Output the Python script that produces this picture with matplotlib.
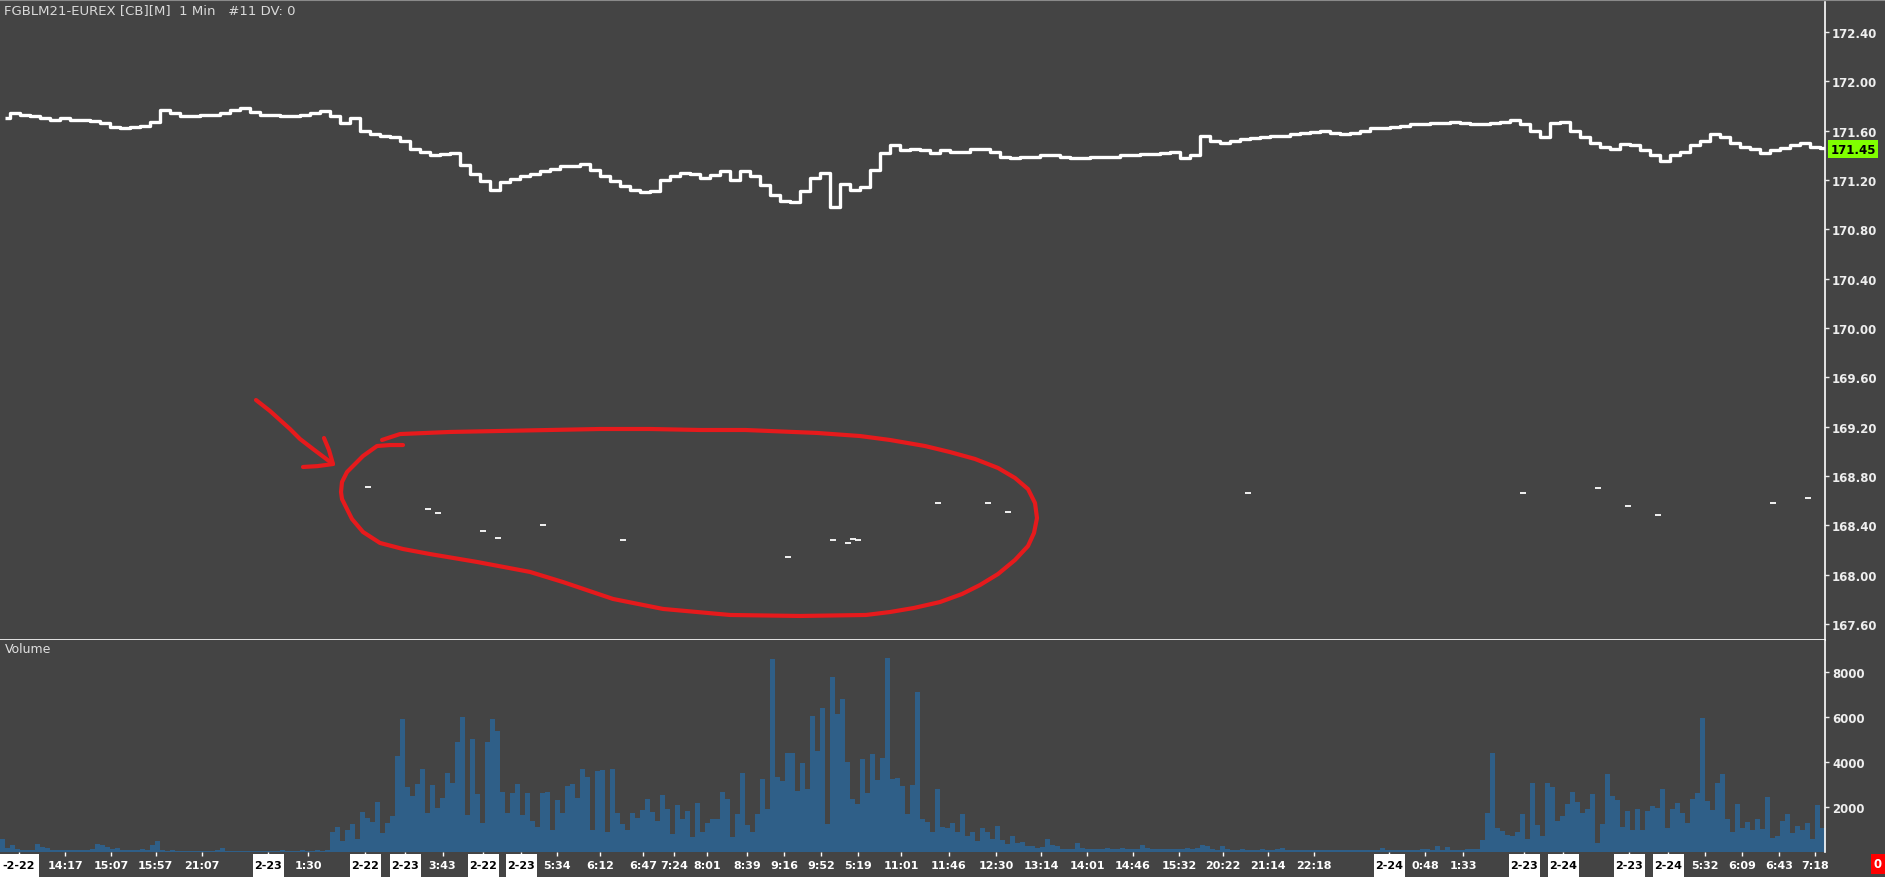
import numpy as np
import matplotlib
matplotlib.use('Agg')
import matplotlib.pyplot as plt
from matplotlib.patches import Rectangle
from matplotlib import transforms

plt.rcParams['font.family'] = ['DejaVu Sans']

# price, one value per 2 volume slots (slot = one volume bar)
price = [171.70, 171.74, 171.73, 171.72, 171.70, 171.69, 171.70, 171.69, 171.69, 171.68,
         171.66, 171.63, 171.62, 171.63, 171.64, 171.67, 171.77, 171.74, 171.72, 171.72,
         171.73, 171.73, 171.74, 171.77, 171.78, 171.75, 171.73, 171.73, 171.72, 171.72,
         171.73, 171.74, 171.76, 171.72, 171.66, 171.70, 171.60, 171.57, 171.56, 171.55,
         171.52, 171.45, 171.43, 171.40, 171.41, 171.42, 171.32, 171.25, 171.19, 171.12,
         171.18, 171.21, 171.23, 171.25, 171.27, 171.29, 171.31, 171.31, 171.33, 171.28,
         171.23, 171.19, 171.15, 171.12, 171.10, 171.11, 171.20, 171.23, 171.26, 171.25,
         171.22, 171.24, 171.27, 171.20, 171.27, 171.23, 171.16, 171.08, 171.03, 171.02,
         171.11, 171.22, 171.26, 170.98, 171.17, 171.12, 171.14, 171.28, 171.42, 171.48,
         171.44, 171.45, 171.44, 171.42, 171.44, 171.43, 171.43, 171.45, 171.45, 171.43,
         171.39, 171.38, 171.39, 171.39, 171.40, 171.40, 171.39, 171.38, 171.38, 171.39,
         171.39, 171.39, 171.40, 171.40, 171.41, 171.41, 171.42, 171.43, 171.38, 171.40,
         171.56, 171.52, 171.50, 171.52, 171.53, 171.54, 171.55, 171.56, 171.56, 171.57,
         171.58, 171.59, 171.60, 171.58, 171.57, 171.58, 171.60, 171.62, 171.62, 171.63,
         171.64, 171.65, 171.65, 171.66, 171.66, 171.67, 171.66, 171.65, 171.65, 171.66,
         171.67, 171.69, 171.65, 171.60, 171.55, 171.66, 171.67, 171.60, 171.55, 171.50,
         171.47, 171.45, 171.49, 171.48, 171.44, 171.40, 171.35, 171.40, 171.43, 171.48,
         171.52, 171.57, 171.55, 171.50, 171.47, 171.45, 171.42, 171.44, 171.46, 171.48,
         171.50, 171.47, 171.46]

volume = [600, 200, 300, 120, 100, 90, 100, 350, 220, 180,
          80, 110, 90, 110, 80, 70, 80, 70, 120, 350,
          320, 240, 120, 160, 110, 90, 80, 80, 120, 90,
          300, 490, 90, 60, 90, 60, 50, 60, 50, 50,
          60, 50, 50, 70, 160, 50, 40, 50, 60, 50,
          40, 50, 50, 60, 40, 50, 70, 50, 40, 50,
          70, 50, 60, 70, 60, 100, 900, 1130, 500, 980,
          1240, 600, 1790, 1500, 1350, 2220, 860, 1300, 1610, 4270,
          5900, 2900, 2500, 3020, 3690, 1750, 2980, 1940, 2380, 3500,
          3080, 4890, 5980, 1640, 5020, 2560, 1270, 4890, 5900, 5380,
          2680, 1720, 2640, 3020, 1640, 2610, 1380, 1130, 2610, 2680,
          1000, 2310, 1720, 2950, 3020, 2380, 3690, 3350, 980, 3600,
          3630, 900, 3670, 1750, 1230, 1000, 1720, 1500, 1870, 2340,
          1780, 1400, 2520, 1900, 800, 2070, 1450, 1820, 650, 2160,
          900, 1300, 1480, 1450, 2670, 2370, 670, 1700, 3500, 1200,
          900, 1670, 3230, 1900, 8560, 3330, 3150, 4380, 4410, 2710,
          3970, 2780, 6040, 4490, 6410, 1230, 7790, 6120, 6810, 4010,
          2370, 2120, 4150, 2610, 4340, 3200, 4190, 8630, 3230, 3300,
          2930, 1670, 3000, 7120, 1450, 1330, 890, 2810, 1100, 1080,
          1300, 900, 1670, 700, 900, 500, 1080, 890, 600, 1150,
          550, 350, 710, 400, 450, 250, 250, 190, 220, 560,
          300, 250, 150, 120, 130, 400, 180, 120, 150, 130,
          120, 200, 130, 120, 160, 120, 130, 150, 300, 200,
          120, 130, 150, 120, 130, 140, 120, 200, 150, 180,
          300, 250, 120, 80, 250, 120, 90, 100, 130, 90,
          110, 90, 130, 90, 80, 120, 190, 90, 80, 100,
          90, 80, 100, 90, 110, 80, 90, 100, 80, 90,
          80, 90, 100, 80, 90, 100, 190, 80, 90, 100,
          80, 90, 100, 80, 120, 120, 90, 270, 100, 240,
          90, 100, 90, 150, 150, 150, 520, 1750, 4380, 1080,
          930, 750, 700, 900, 1670, 560, 3080, 1200, 700, 3050,
          2900, 1380, 1600, 2150, 2670, 2220, 1750, 1900, 2560, 390,
          1230, 3450, 2490, 2310, 1110, 1820, 980, 1920, 960, 1820,
          2040, 1970, 2780, 1080, 1920, 2160, 1750, 1300, 2370, 2610,
          5970, 2270, 1870, 3080, 3450, 1450, 890, 2120, 1080, 1330,
          1000, 1480, 1040, 2460, 640, 710, 1380, 1670, 860, 1150,
          1000, 1290, 600, 2090, 1070]

# stray indicator dashes (slot, price)
dash_slot = [73, 85, 87, 96, 99, 108, 124, 157, 166, 169, 170, 171, 187, 197, 201,
             249, 304, 319, 325, 331, 354, 361]
dash_price = [168.71, 168.53, 168.50, 168.35, 168.30, 168.40, 168.28, 168.14, 168.28,
              168.26, 168.29, 168.28, 168.58, 168.58, 168.51, 168.66, 168.66, 168.70,
              168.56, 168.48, 168.58, 168.62]

last_price = 171.45
price_ticks = [167.60, 168.00, 168.40, 168.80, 169.20, 169.60, 170.00, 170.40,
               170.80, 171.20, 171.60, 172.00, 172.40]
volume_ticks = [2000, 4000, 6000, 8000]

time_labels = ['14:17', '15:07', '15:57', '21:07', '1:30', '3:43', '5:34', '6:12', '6:47',
               '7:24', '8:01', '8:39', '9:16', '9:52', '5:19', '11:01', '11:46', '12:30',
               '13:14', '14:01', '14:46', '15:32', '20:22', '21:14', '22:18', '0:48',
               '1:33', '5:32', '6:09', '6:43', '7:18']
time_slots = [13.0, 22.2, 31.1, 40.4, 61.6, 88.5, 111.4, 120.0, 128.6, 134.8, 141.4,
              149.4, 156.8, 164.2, 171.6, 180.2, 189.8, 199.2, 208.2, 217.4, 226.6,
              235.8, 244.6, 253.6, 262.8, 285.0, 292.6, 341.0, 348.4, 355.8, 363.0]
date_labels = ['-2-22', '2-23', '2-22', '2-23', '2-22', '2-23', '2-24', '2-23', '2-24',
               '2-23', '2-24']
date_slots = [3.8, 53.6, 73.0, 81.0, 96.6, 104.2, 277.8, 304.8, 312.6, 325.8, 333.6]

# hand-drawn red annotation (slot, price)
ring_x = [76.4, 80, 90, 100, 110, 120, 130, 140, 149, 163.4,
          172, 178, 185, 190, 195, 199.6, 203, 205.6, 207, 207.4,
          206.8, 205.6, 203, 199.6, 196, 192.4, 188, 182.8, 178, 173.2,
          160, 146, 132.6, 122.6, 112.6, 106, 95.4, 86, 80.6, 76,
          72.6, 70.4, 69.4, 68.4, 68.2, 68.4, 69.4, 71, 72.6, 75.4,
          78, 80.6]
ring_y = [169.092, 169.140, 169.157, 169.165, 169.173, 169.181, 169.181, 169.173, 169.173, 169.149,
          169.124, 169.092, 169.043, 168.994, 168.938, 168.865, 168.784, 168.694, 168.581, 168.459,
          168.338, 168.232, 168.119, 168.005, 167.916, 167.843, 167.778, 167.730, 167.697, 167.673,
          167.665, 167.673, 167.722, 167.803, 167.940, 168.022, 168.103, 168.167, 168.208, 168.257,
          168.346, 168.451, 168.532, 168.613, 168.670, 168.751, 168.832, 168.897, 168.962, 169.043,
          169.051, 169.051]
arrow_x = [51.2, 54, 58, 60, 62.6, 66.6]
arrow_y = [169.416, 169.327, 169.181, 169.100, 169.019, 168.897]
head_x = [64.8, 65.8, 66.6, 63.5, 60.6]
head_y = [169.108, 169.010, 168.897, 168.880, 168.873]

bg = '#444444'
fg = '#eeeeee'
W, H = 1885, 878

fig = plt.figure(figsize=(W / 100, H / 100), dpi=100, facecolor=bg)
ax = fig.add_axes([0, 1 - 641 / H, 1825 / W, (641 - 3) / H], facecolor=bg)
axv = fig.add_axes([0, 1 - 853 / H, 1825 / W, (853 - 641) / H], facecolor=bg)

n = len(volume)
px = np.arange(len(price)) * 2 + 1
ax.plot(px, price, color='white', lw=2.4, drawstyle='steps-mid', solid_capstyle='butt')
ax.plot(np.array(dash_slot) + 0.5, dash_price, ls='none', marker='_', color='white',
        markersize=4, mew=1.3)
red = '#e61a1c'
ax.plot(ring_x, ring_y, color=red, lw=3, solid_capstyle='round', solid_joinstyle='round')
ax.plot(arrow_x, arrow_y, color=red, lw=3, solid_capstyle='round')
ax.plot(head_x, head_y, color=red, lw=3, solid_capstyle='round', solid_joinstyle='round')

ax.set_xlim(0, n)
ax.set_ylim(172.4 - 608 / 123.33, 172.4 + 30 / 123.33)
ax.yaxis.tick_right()
ax.set_yticks(price_ticks)
ax.set_yticklabels([f'{v:.2f}' for v in price_ticks])
ax.set_xticks([])
ax.tick_params(axis='y', colors=fg, length=3, width=1, pad=2, labelsize=8.5)
for lbl in ax.get_yticklabels():
    lbl.set_fontweight('bold')
for s in ['left', 'top']:
    ax.spines[s].set_visible(False)
ax.spines['right'].set_color('white')
ax.spines['bottom'].set_color('white')
ax.spines['right'].set_linewidth(1.2)
ax.spines['bottom'].set_linewidth(1.2)

ax.text(1.003, last_price, f'{last_price:.2f}', transform=ax.get_yaxis_transform(),
        ha='left', va='center', fontsize=8.5, fontweight='bold', color='black',
        bbox=dict(facecolor='#80ff00', edgecolor='none', pad=1.6))

axv.bar(np.arange(n) + 0.5, volume, width=1.0, color='#2f5f88', linewidth=0)
axv.set_xlim(0, n)
axv.set_ylim(0, 212 / 45 * 2000)
axv.yaxis.tick_right()
axv.set_yticks(volume_ticks)
axv.set_yticklabels([str(v) for v in volume_ticks])
axv.tick_params(axis='y', colors=fg, length=3, width=1, pad=2, labelsize=8.5)
for lbl in axv.get_yticklabels():
    lbl.set_fontweight('bold')
axv.set_xticks(time_slots + date_slots)
axv.set_xticklabels([])
axv.tick_params(axis='x', colors='white', length=3, width=1, direction='out')
for s in ['left', 'top', 'bottom']:
    axv.spines[s].set_visible(False)
axv.spines['right'].set_color('white')
axv.spines['right'].set_linewidth(1.2)
axv.text(5 / 1825, 1 - 9 / 212, 'Volume', transform=axv.transAxes, ha='left', va='center',
         fontsize=9, color='#e0e0e0')

# x labels row
blend = transforms.blended_transform_factory(axv.transData, fig.transFigure)
ylab = 1 - 866 / H
for s, t in zip(time_slots, time_labels):
    axv.text(s, ylab, t, transform=blend, ha='center', va='center', fontsize=8,
             fontweight='bold', color='white', clip_on=False)
for s, t in zip(date_slots, date_labels):
    bw = 7.8 if t.startswith('-') else 6.2
    axv.add_patch(Rectangle((s - bw / 2, 0), bw, 1 - 855 / H, transform=blend,
                            facecolor='white', edgecolor='none', clip_on=False))
    axv.text(s, ylab, t, transform=blend, ha='center', va='center', fontsize=8,
             fontweight='bold', color='black', clip_on=False)

fig.text(4 / W, 1 - 11 / H, 'FGBLM21-EUREX [CB][M]  1 Min   #11 DV: 0', ha='left',
         va='center', fontsize=9.5, color='#dadada')
fig.add_artist(plt.Line2D([0, 1], [1 - 1 / H, 1 - 1 / H], transform=fig.transFigure,
                          color='#8a8a8a', lw=1.5))
fig.text(1878 / W, 1 - 865 / H, '0', ha='center', va='center', fontsize=8.5,
         fontweight='bold', color='white',
         bbox=dict(facecolor='#ff0000', edgecolor='none', pad=2.5))

fig.savefig('out.png', dpi=100, facecolor=bg)
